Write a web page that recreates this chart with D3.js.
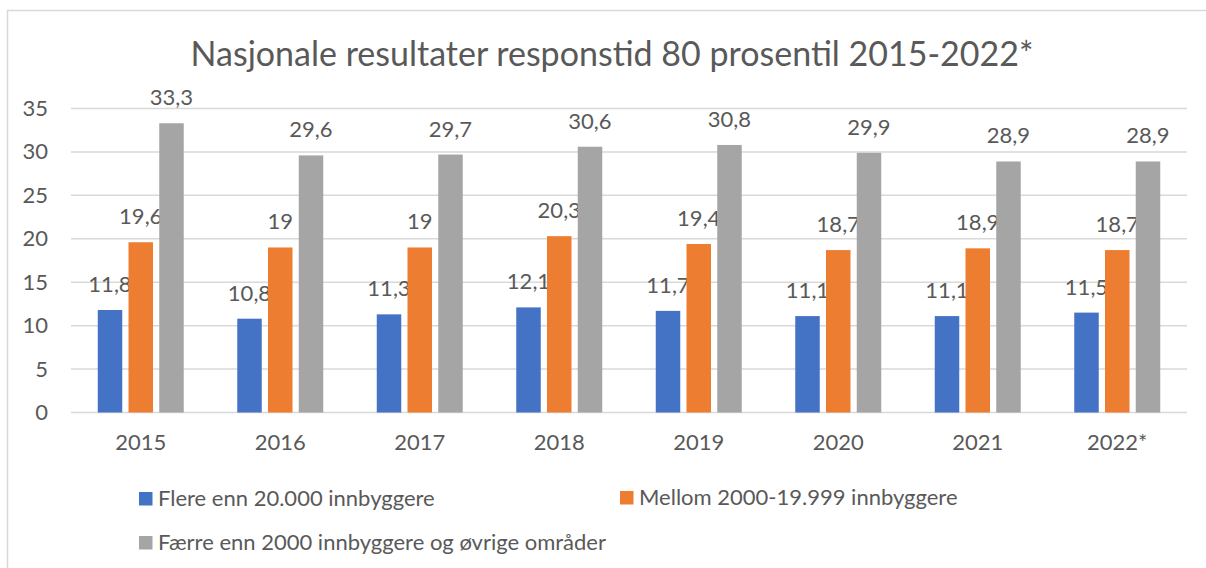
<!DOCTYPE html>
<html lang="no">
<head>
<meta charset="UTF-8">
<title>Nasjonale resultater responstid</title>
<script src="https://d3js.org/d3.v7.min.js"></script>
<style>
  body { margin: 0; background: #ffffff; }
  text { font-family: Lato, "Open Sans", sans-serif; fill: #595959; }
</style>
</head>
<body>
<div id="chart"></div>
<script>
// data
var years = ["2015", "2016", "2017", "2018", "2019", "2020", "2021", "2022*"];
var seriesNames = ["Flere enn 20.000 innbyggere", "Mellom 2000-19.999 innbyggere", "Færre enn 2000 innbyggere og øvrige områder"];
var flere = [11.8, 10.8, 11.3, 12.1, 11.7, 11.1, 11.1, 11.5];
var mellom = [19.6, 19, 19, 20.3, 19.4, 18.7, 18.9, 18.7];
var faerre = [33.3, 29.6, 29.7, 30.6, 30.8, 29.9, 28.9, 28.9];
var yTicks = [0, 5, 10, 15, 20, 25, 30, 35];
var colors = ["#4472C4", "#ED7D31", "#A5A5A5"];

var W = 1206, H = 568;
var plot = {left: 71, right: 1187, top: 108.5, bottom: 412.5};

var svg = d3.select("#chart").append("svg")
    .attr("width", W)
    .attr("height", H);

// chart area border
svg.append("rect")
  .attr("x", 7.5).attr("y", 10.5)
  .attr("width", W + 20).attr("height", H + 20)
  .attr("fill", "#fff")
  .attr("stroke", "#d9d9d9")
  .attr("stroke-width", 1.5);

svg.append("text")
  .attr("x", 612).attr("y", 66)
  .attr("text-anchor", "middle")
  .style("font-size", "34px")
  .text("Nasjonale resultater responstid 80 prosentil 2015-2022*");

var x = d3.scaleBand().domain(years).range([plot.left, plot.right]);
var y = d3.scaleLinear().domain([0, 35]).range([plot.bottom, plot.top]);

// gridlines
svg.append("g").selectAll("line")
  .data(yTicks)
  .join("line")
  .attr("x1", plot.left).attr("x2", plot.right)
  .attr("y1", function(d) { return y(d); })
  .attr("y2", function(d) { return y(d); })
  .attr("stroke", "#d9d9d9")
  .attr("stroke-width", 1.5);

// y labels
var yAxis = svg.append("g")
  .attr("transform", "translate(48,0)")
  .call(d3.axisLeft(y).tickValues(yTicks).tickSize(0).tickPadding(0));
yAxis.select(".domain").remove();
yAxis.selectAll("text")
  .attr("fill", "#595959")
  .style("font-family", "Lato, sans-serif")
  .style("font-size", "22px");

// x labels
var xAxis = svg.append("g")
  .attr("transform", "translate(0," + plot.bottom + ")")
  .call(d3.axisBottom(x).tickSize(0).tickPadding(22));
xAxis.select(".domain").remove();
xAxis.selectAll("text")
  .attr("fill", "#595959")
  .style("font-family", "Lato, sans-serif")
  .style("font-size", "22px");

// bars
var bw = x.bandwidth() * 0.1756;
var step = x.bandwidth() * 0.2204;
var allSeries = [flere, mellom, faerre];

allSeries.forEach(function(vals, s) {
  var g = svg.append("g");
  var rows = years.map(function(yr, i) { return {year: yr, v: vals[i]}; });
  g.selectAll("rect")
    .data(rows)
    .join("rect")
    .attr("x", function(d) { return x(d.year) + x.bandwidth() / 2 + (s - 1) * step - bw / 2; })
    .attr("y", function(d) { return y(d.v); })
    .attr("width", bw)
    .attr("height", function(d) { return y(0) - y(d.v); })
    .attr("fill", colors[s]);
  g.selectAll("text")
    .data(rows)
    .join("text")
    .attr("x", function(d) { return x(d.year) + x.bandwidth() / 2 + (s - 1) * step; })
    .attr("y", function(d) { return y(d.v) - 18; })
    .attr("text-anchor", "middle")
    .style("font-size", "22px")
    .text(function(d) { return String(d.v).replace(".", ","); });
});

// legend
var legendPos = [[139, 492], [620, 491], [139, 536]];
seriesNames.forEach(function(name, s) {
  svg.append("rect")
    .attr("x", legendPos[s][0]).attr("y", legendPos[s][1])
    .attr("width", 13.5).attr("height", 13.5)
    .attr("fill", colors[s]);
  svg.append("text")
    .attr("x", legendPos[s][0] + 19).attr("y", legendPos[s][1] + 14)
    .style("font-size", "22px")
    .text(name);
});
</script>
</body>
</html>
